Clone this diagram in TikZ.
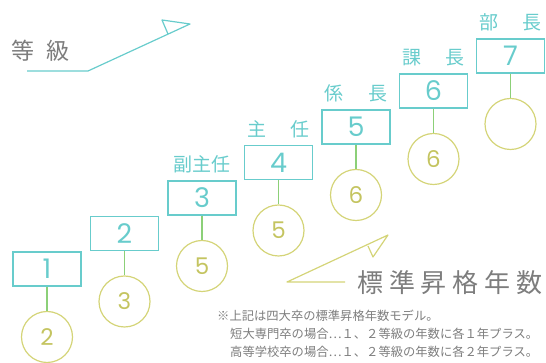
\documentclass[tikz,border=0pt]{standalone}
\usepackage{fontspec}
\setmainfont{Noto Sans CJK JP}
\newfontfamily\numfont{Poppins}
\usetikzlibrary{positioning}
\definecolor{boxcyan}{RGB}{104,204,204}
\definecolor{ringyellow}{RGB}{212,212,120}
\definecolor{ringtext}{RGB}{196,196,96}
\definecolor{stemgreen}{RGB}{140,208,120}
\definecolor{labelgray}{RGB}{125,125,125}
\tikzstyle{grade} = [draw=boxcyan, line width=1.1pt, minimum width=68pt,
minimum height=34pt, inner sep=0pt, text=boxcyan, font=\numfont\fontsize{27}{27}\selectfont]
\tikzstyle{years} = [draw=ringyellow, circle, line width=1.2pt, minimum size=51pt,
inner sep=0pt, text=ringtext, font=\numfont\fontsize{23}{23}\selectfont, node distance=68pt]
\tikzstyle{post} = [text=boxcyan, inner sep=0pt, font=\fontsize{19}{19}\selectfont]
\tikzstyle{stem} = [draw=stemgreen, line width=1.2pt]
\tikzstyle{note} = [anchor=west, inner sep=0pt, text=labelgray, font=\fontsize{12.3}{12.3}\selectfont]
\begin{document}
\begin{tikzpicture}[x=1pt, y=1pt]
	\useasboundingbox (0,0) rectangle (546,363);
	% Place grades
	\node [grade] (g1) at (47,94) {1};
	\node [grade] (g2) at (124.5,129.5) {2};
	\node [grade] (g3) at (202,165) {3};
	\node [grade] (g4) at (278.5,200.5) {4};
	\node [grade] (g5) at (356,236) {5};
	\node [grade] (g6) at (433.5,272) {6};
	\node [grade] (g7) at (510.5,307) {7};
	% Place years
	\node [years, below of=g1] (y1) {2};
	\node [years, below of=g2] (y2) {3};
	\node [years, below of=g3] (y3) {5};
	\node [years, below of=g4] (y4) {5};
	\node [years, below of=g5] (y5) {6};
	\node [years, below of=g6] (y6) {6};
	\node [years, below of=g7] (y7) {};
	
	\path [stem] (g1) -- (y1);
	\path [stem] (g2) -- (y2);
	\path [stem] (g3) -- (y3);
	\path [stem] (g4) -- (y4);
	\path [stem] (g5) -- (y5);
	\path [stem] (g6) -- (y6);
	\path [stem] (g7) -- (y7);
	% Posts
	\node [post, above=7pt of g3] (p3) {副主任};
	\node [post, above=7pt of g4] (p4) {主\hspace{1.3em}任};
	\node [post, above=7pt of g5] (p5) {係\hspace{1.3em}長};
	\node [post, above=7pt of g6] (p6) {課\hspace{1.3em}長};
	\node [post, above=7pt of g7] (p7) {部\hspace{1.3em}長};
	% Grade arrow
	\node [text=labelgray, font=\fontsize{23}{23}\selectfont] (gtitle) at (40.5,312) {等\hspace{0.5em}級};
	\coordinate (ga) at (27,292);
	\coordinate (gb) at (88,292);
	\coordinate (gc) at (190,339);
	\coordinate (gflag) at (162,343);
	\coordinate (gd) at (168,329);
	\draw [boxcyan, line width=1.2pt, line join=round] (ga) -- (gb) -- (gc) -- (gflag) -- (gd);
	% Years arrow
	\node [text=labelgray, font=\fontsize{26}{26}\selectfont] (ytitle) at (450,80)
		{標\hspace{0.23em}準\hspace{0.23em}昇\hspace{0.23em}格\hspace{0.23em}年\hspace{0.23em}数};
	\coordinate (ya) at (345,81);
	\coordinate (yb) at (287,81);
	\coordinate (yc) at (388,128);
	\coordinate (yflag) at (373,106);
	\coordinate (yd) at (368,117);
	\draw [ringyellow, line width=1.2pt, line join=round] (ya) -- (yb) -- (yc) -- (yflag) -- (yd);
	% Notes
	\node [note] (n1) at (217,47) {※上記は四大卒の標準昇格年数モデル。};
	\node [note] (n2) at (230,29) {短大専門卒の場合…１、２等級の年数に各１年プラス。};
	\node [note] (n3) at (230,11) {高等学校卒の場合…１、２等級の年数に各２年プラス。};
	
\end{tikzpicture}
\end{document}
